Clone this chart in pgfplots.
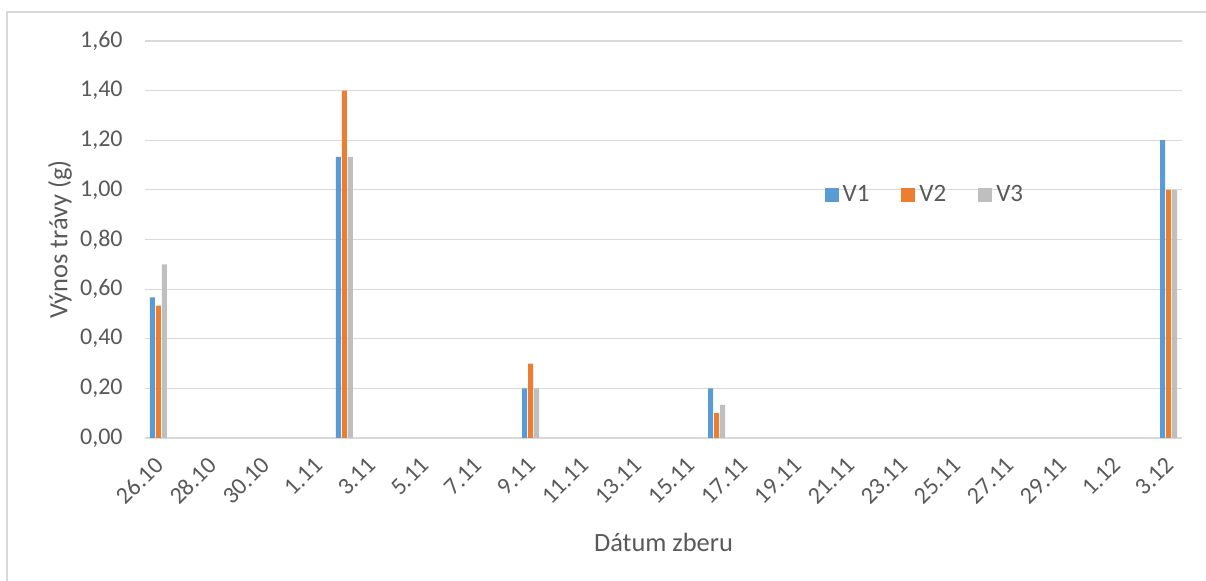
\documentclass[border=0pt]{standalone}
\usepackage{pgfplots}
\pgfplotsset{compat=1.18}
\usepackage{fontspec}
\setmainfont{Carlito}

\definecolor{sV1}{HTML}{5B9BD5}
\definecolor{sV2}{HTML}{ED7D31}
\definecolor{sV3}{HTML}{BFBFBF}
\definecolor{txt}{HTML}{595959}
\definecolor{gridc}{HTML}{D9D9D9}

\pgfplotsset{
  sqlegend/.style={legend image code/.code={\fill[##1] (0pt,-3.5pt) rectangle (7pt,3.5pt);}},
}

\begin{document}
\begin{tikzpicture}
\useasboundingbox (0,0) rectangle (603pt,290.5pt);
% chart area frame
\draw[color=gridc, line width=0.6pt] (3.5pt,0) -- (3.5pt,284.5pt) -- (603pt,284.5pt);
\begin{axis}[
  at={(72.5pt,71.5pt)}, anchor=south west,
  scale only axis, width=518.5pt, height=198.5pt,
  xmin=-0.5, xmax=38.5, ymin=0, ymax=1.6,
  xtick={0,2,...,38},
  xticklabels={26.10,28.10,30.10,1.11,3.11,5.11,7.11,9.11,11.11,13.11,15.11,17.11,19.11,21.11,23.11,25.11,27.11,29.11,1.12,3.12},
  ytick={0,0.2,...,1.61},
  axis line style={draw=none},
  major tick length=0pt,
  ymajorgrids, grid style={color=gridc, line width=0.6pt},
  tick label style={text=txt, font=\fontsize{12}{14}\selectfont},
  yticklabel style={inner sep=0pt, xshift=-11pt, anchor=east},
  xticklabel style={inner sep=0pt, anchor=east, yshift=-11.5pt, xshift=0.5pt, rotate=45},
  /pgf/number format/.cd, fixed, fixed zerofill, precision=2, use comma, assume math mode=true,
  /pgfplots/.cd,
  xlabel={Dátum zberu},
  xlabel style={at={(axis description cs:0.5,-0.262)}, anchor=center, text=txt, font=\fontsize{13.2}{15}\selectfont},
  ylabel={Výnos trávy (g)},
  ylabel style={at={(axis description cs:-0.082,0.5)}, anchor=center, text=txt, font=\fontsize{13.2}{15}\selectfont},
  legend columns=3,
  legend style={draw=none, fill=none, at={(axis description cs:0.753,0.612)}, anchor=center,
    text=txt, font=\fontsize{12.5}{14}\selectfont,
    /tikz/every even column/.append style={column sep=14pt}},
]
% day index: 0 = 26.10, 7 = 2.11, 14 = 9.11, 21 = 16.11, 38 = 3.12
\addplot[ybar, bar width=0.188, bar shift=-0.2257, fill=sV1, draw=none, sqlegend]
  coordinates {(0,0.567) (7,1.133) (14,0.20) (21,0.20) (38,1.20)};
\addplot[ybar, bar width=0.188, bar shift=0, fill=sV2, draw=none, sqlegend]
  coordinates {(0,0.533) (7,1.40) (14,0.30) (21,0.10) (38,1.00)};
\addplot[ybar, bar width=0.188, bar shift=0.2257, fill=sV3, draw=none, sqlegend]
  coordinates {(0,0.70) (7,1.133) (14,0.20) (21,0.133) (38,1.00)};
\legend{V1,V2,V3}
\end{axis}
\end{tikzpicture}
\end{document}
